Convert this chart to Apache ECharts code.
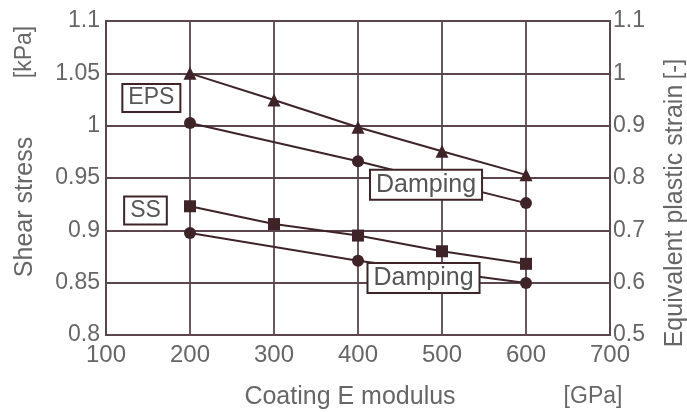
<!DOCTYPE html>
<html>
<head>
<meta charset="utf-8">
<script src="https://cdn.jsdelivr.net/npm/echarts@6/dist/echarts.min.js"></script>
<style>
  html, body { margin: 0; padding: 0; background: #fff; }
  #chart { width: 687px; height: 412px; }
</style>
</head>
<body>
<div id="chart"></div>
<script>
// Coating modulus (GPa) on the x axis
const modulus = [200, 300, 400, 500, 600];
const modulusDamped = [200, 400, 600];

// Equivalent plastic strain [-] (right axis)
const epsValues = [1.0, 0.949, 0.897, 0.851, 0.806];
const epsDamping = [0.905, 0.832, 0.752];

// Shear stress [kPa] (left axis)
const ssValues = [0.923, 0.906, 0.895, 0.880, 0.868];
const ssDamping = [0.8975, 0.871, 0.8497];

// Tick labels
const xTicks = ['100', '200', '300', '400', '500', '600', '700'];
const leftTicks = ['0.8', '0.85', '0.9', '0.95', '1', '1.05', '1.1'];
const rightTicks = ['0.5', '0.6', '0.7', '0.8', '0.9', '1', '1.1'];

const FONT = '"Liberation Sans", Arial, sans-serif';
const TEXT = '#666';
const INK = '#3e2428';
const GRID = '#5a464c';

const pairs = (xs, ys) => xs.map((x, i) => [x, ys[i]]);

// Boxed annotation anchored at a data coordinate
function boxLabel(text, coord, size) {
  return {
    symbol: 'rect',
    symbolSize: 1,
    silent: true,
    itemStyle: { color: 'rgba(0,0,0,0)' },
    label: {
      show: true,
      formatter: text,
      position: 'inside',
      fontFamily: FONT,
      fontSize: size,
      color: '#555',
      backgroundColor: '#fff',
      borderColor: INK,
      borderWidth: 2,
      padding: [2, 5, 1, 5]
    },
    data: [{ coord: coord }],
    z: 10
  };
}

const chart = echarts.init(document.getElementById('chart'), null, { renderer: 'canvas' });

const lineBase = {
  type: 'line',
  symbolSize: 12,
  lineStyle: { color: INK, width: 2 },
  itemStyle: { color: INK },
  z: 5
};

chart.setOption({
  animation: false,
  backgroundColor: '#fff',
  grid: {
    left: 106, right: 77, top: 21, bottom: 77,
    show: true, borderColor: GRID, borderWidth: 2,
    containLabel: false
  },
  xAxis: {
    type: 'value', min: 100, max: 700, interval: 100,
    axisLine: { show: true, lineStyle: { color: GRID, width: 2 } },
    axisTick: { show: false },
    splitLine: { show: true, lineStyle: { color: GRID, width: 1.8 } },
    axisLabel: {
      margin: 8, fontFamily: FONT, fontSize: 24, color: TEXT,
      formatter: (v) => xTicks[Math.round((v - 100) / 100)]
    }
  },
  yAxis: [
    {
      type: 'value', min: 0.8, max: 1.1, interval: 0.05, position: 'left',
      axisLine: { show: true, lineStyle: { color: GRID, width: 2 } },
      axisTick: { show: false },
      splitLine: { show: true, lineStyle: { color: GRID, width: 1.8 } },
      axisLabel: {
        margin: 6, fontFamily: FONT, fontSize: 23, color: TEXT,
        formatter: (v) => leftTicks[Math.round((v - 0.8) / 0.05)]
      }
    },
    {
      type: 'value', min: 0.5, max: 1.1, interval: 0.1, position: 'right',
      axisLine: { show: true, lineStyle: { color: GRID, width: 2 } },
      axisTick: { show: false },
      splitLine: { show: false },
      axisLabel: {
        margin: 3, fontFamily: FONT, fontSize: 23, color: TEXT,
        formatter: (v) => rightTicks[Math.round((v - 0.5) / 0.1)]
      }
    }
  ],
  series: [
    Object.assign({}, lineBase, {
      name: 'EPS', yAxisIndex: 1, symbol: 'triangle', symbolSize: 13,
      data: pairs(modulus, epsValues),
      markPoint: boxLabel('EPS', [154, 0.953], 23)
    }),
    Object.assign({}, lineBase, {
      name: 'EPS damping', yAxisIndex: 1, symbol: 'circle',
      data: pairs(modulusDamped, epsDamping),
      markPoint: boxLabel('Damping', [481, 0.787], 25)
    }),
    Object.assign({}, lineBase, {
      name: 'SS', yAxisIndex: 0, symbol: 'rect', symbolSize: 12,
      data: pairs(modulus, ssValues),
      markPoint: boxLabel('SS', [147, 0.919], 23)
    }),
    Object.assign({}, lineBase, {
      name: 'SS damping', yAxisIndex: 0, symbol: 'circle',
      data: pairs(modulusDamped, ssDamping),
      markPoint: boxLabel('Damping', [478, 0.8545], 25)
    })
  ],
  graphic: [
    { type: 'text', x: 25, y: 52, rotation: Math.PI / 2,
      style: { text: '[kPa]', font: '23px ' + FONT, fill: TEXT, textAlign: 'center', textVerticalAlign: 'middle' } },
    { type: 'text', x: 25, y: 207, rotation: Math.PI / 2,
      style: { text: 'Shear stress', font: '25px ' + FONT, fill: TEXT, textAlign: 'center', textVerticalAlign: 'middle' } },
    { type: 'text', x: 675, y: 69, rotation: Math.PI / 2,
      style: { text: '[-]', font: '23px ' + FONT, fill: TEXT, textAlign: 'center', textVerticalAlign: 'middle' } },
    { type: 'text', x: 675, y: 216, rotation: Math.PI / 2,
      style: { text: 'Equivalent plastic strain', font: '25px ' + FONT, fill: TEXT, textAlign: 'center', textVerticalAlign: 'middle' } },
    { type: 'text', x: 350, y: 397,
      style: { text: 'Coating E modulus', font: '25px ' + FONT, fill: TEXT, textAlign: 'center', textVerticalAlign: 'middle' } },
    { type: 'text', x: 593, y: 397,
      style: { text: '[GPa]', font: '23px ' + FONT, fill: TEXT, textAlign: 'center', textVerticalAlign: 'middle' } }
  ]
});
</script>
</body>
</html>
